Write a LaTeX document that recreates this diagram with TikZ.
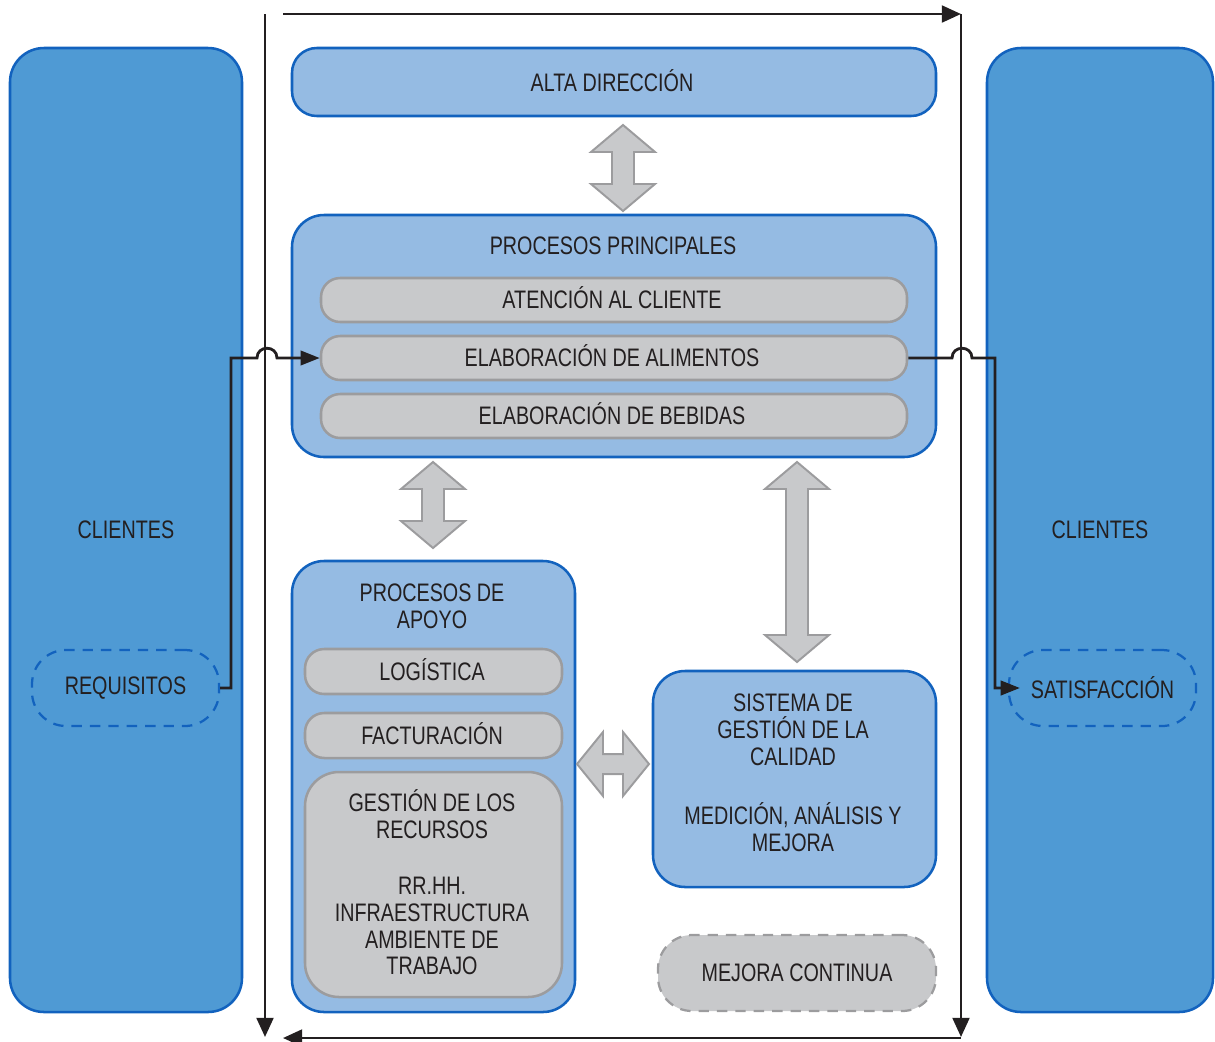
\documentclass[tikz,border=0pt]{standalone}
\usepackage{fontspec}
\setmainfont[FakeStretch=0.78]{Liberation Sans}
\usetikzlibrary{arrows.meta,fit,calc}
\definecolor{deepblue}{HTML}{4F9AD4}
\definecolor{paleblue}{HTML}{95BBE3}
\definecolor{edgeblue}{HTML}{1262BE}
\definecolor{barfill}{HTML}{C8C9CB}
\definecolor{baredge}{HTML}{9C9C9E}
\definecolor{ink}{HTML}{231F20}

% vertical two-headed block arrow: x, top y, bottom y
\newcommand\vertdbl[3]{%
  \draw[dblarrow] (#1,#2) -- (#1+32,#2+27) -- (#1+11,#2+27) -- (#1+11,#3-27)
    -- (#1+32,#3-27) -- (#1,#3) -- (#1-32,#3-27) -- (#1-11,#3-27)
    -- (#1-11,#2+27) -- (#1-32,#2+27) -- cycle;}
% horizontal two-headed block arrow: left x, right x, y
\newcommand\horizdbl[3]{%
  \draw[dblarrow] (#1,#3) -- (#1+26,#3-32) -- (#1+26,#3-10) -- (#2-26,#3-10)
    -- (#2-26,#3-32) -- (#2,#3) -- (#2-26,#3+32) -- (#2-26,#3+10)
    -- (#1+26,#3+10) -- (#1+26,#3+32) -- cycle;}

\begin{document}
\begin{tikzpicture}[x=0.025cm,y=-0.025cm,
  font=\fontsize{18}{19.1}\selectfont, text=ink,
  every node/.style={inner sep=0pt, align=center},
  clientbox/.style={draw=edgeblue, fill=deepblue, line width=1.8pt, rounded corners=0.85cm},
  groupbox/.style={draw=edgeblue, fill=paleblue, line width=1.8pt, rounded corners=0.8cm},
  topbox/.style={draw=edgeblue, fill=paleblue, line width=1.8pt, rounded corners=0.62cm},
  bar/.style={draw=baredge, fill=barfill, line width=1.8pt, rounded corners=0.48cm},
  bigbar/.style={draw=baredge, fill=barfill, line width=1.8pt, rounded corners=0.85cm},
  dashblue/.style={draw=edgeblue, dash pattern=on 0.26cm off 0.2cm, line width=1.6pt, rounded corners=0.85cm},
  dashgray/.style={draw=baredge, fill=barfill, dash pattern=on 0.26cm off 0.2cm, line width=1.6pt, rounded corners=0.85cm},
  flow/.style={draw=ink, line width=2pt},
  tip/.style={-{Triangle[length=0.48cm,width=0.42cm]}},
  ctip/.style={-{Triangle[length=0.48cm,width=0.36cm]}},
  dblarrow/.style={draw=baredge, fill=barfill, line width=1.4pt, line join=miter}]

\useasboundingbox (0,0) rectangle (1215,1041);

% customer columns
\node[clientbox, fit={(10,48) (242,1012)}] (clin) {};
\node at (clin) {CLIENTES};
\node[clientbox, fit={(987,48) (1213,1012)}] (clout) {};
\node at (clout) {CLIENTES};
\node[dashblue, fit={(32,650) (219,726)}] (req) {};
\node at (req) {REQUISITOS};
\node[dashblue, fit={(1009,650) (1196,726)}] (sat) {};
\node at (sat) {SATISFACCIÓN};

% improvement cycle frame
\coordinate (tl) at (265,14);
\coordinate (bl) at (265,1037);
\coordinate (ts) at (283,14);
\coordinate (tr) at (961,14);
\coordinate (br) at (961,1037);
\coordinate (bs) at (961,1038);
\coordinate (be) at (283,1038);
\draw[flow, tip] (tl) -- (bl);
\draw[flow, tip] (tr) -- (br);
\draw[flow, tip] (ts) -- (tr);
\draw[flow, tip] (bs) -- (be);

% management
\node[topbox, fit={(292,48) (936,116)}] (alta) {};
\node at (612,81) {ALTA DIRECCIÓN};

% main processes
\node[groupbox, fit={(292,215) (936,457)}] (princ) {};
\node at (613,246) {PROCESOS PRINCIPALES};
\node[bar, fit={(321,278) (907,322)}] (aten) {};
\node at (612,298) {ATENCIÓN AL CLIENTE};
\node[bar, fit={(321,336) (907,380)}] (alim) {};
\node at (612,356) {ELABORACIÓN DE ALIMENTOS};
\node[bar, fit={(321,394) (907,438)}] (beb) {};
\node at (612,414) {ELABORACIÓN DE BEBIDAS};

% support processes
\node[groupbox, fit={(292,561) (575,1012)}] (apoyo) {};
\node at (432,606) {PROCESOS DE\\APOYO};
\node[bar, fit={(305,649) (562,694)}] (log) {};
\node at (432,670) {LOGÍSTICA};
\node[bar, fit={(305,713) (562,758)}] (fac) {};
\node at (432,734) {FACTURACIÓN};
\node[bigbar, fit={(305,772) (562,997)}] (rec) {};
\node at (432,814) {GESTIÓN DE LOS\\RECURSOS};
\node at (432,926) {RR.HH.\\INFRAESTRUCTURA\\AMBIENTE DE\\TRABAJO};

% quality system
\node[groupbox, fit={(653,671) (936,887)}] (sgc) {};
\node at (793,730) {SISTEMA DE\\GESTIÓN DE LA\\CALIDAD};
\node at (793,827) {MEDICIÓN, ANÁLISIS Y\\MEJORA};

% continual improvement
\node[dashgray, fit={(658,935) (936,1011)}] (mej) {};
\node at (mej) {MEJORA CONTINUA};

% block arrows between areas
\vertdbl{623}{125}{211}
\vertdbl{433}{462}{548}
\vertdbl{797}{462}{662}
\horizdbl{577}{649}{764}

% requirements in, satisfaction out (with hops over the frame)
\draw[flow, ctip] (req.east) -- (231,688) -- (231,358) -- (257,358)
  .. controls (257,345) and (277,345) .. (277,358) -- (alim.west);
\draw[flow, ctip] (alim.east) -- (952,358)
  .. controls (952,345) and (972,345) .. (972,358) -- (995,358)
  -- (995,688) -- ([xshift=0.3cm]sat.west);
\end{tikzpicture}
\end{document}
